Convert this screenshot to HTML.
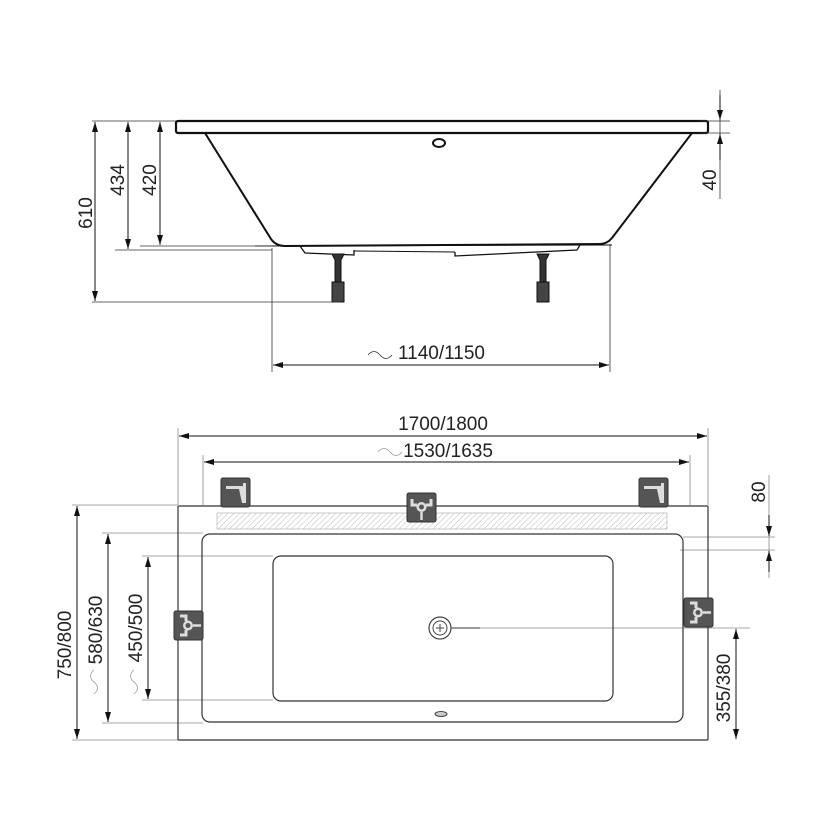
<!DOCTYPE html>
<html><head><meta charset="utf-8"><style>
html,body{margin:0;padding:0;background:#fff;}
svg{display:block;}
text{font-family:"Liberation Sans",sans-serif;font-size:19px;fill:#222;}
</style></head><body>
<svg width="830" height="830" viewBox="0 0 830 830" xmlns="http://www.w3.org/2000/svg">
<defs>
<marker id="a" viewBox="0 0 10 6" refX="10" refY="3" markerWidth="10" markerHeight="6" orient="auto-start-reverse" markerUnits="userSpaceOnUse"><path d="M0,0 L10,3 L0,6 z" fill="#111"/></marker>
<pattern id="h" width="4" height="4" patternUnits="userSpaceOnUse" patternTransform="rotate(45)"><line x1="0" y1="0" x2="0" y2="4" stroke="#bbb" stroke-width="1"/></pattern>
<g id="tap"><rect x="0" y="0" width="29" height="29" rx="2" fill="#555" stroke="#333"/><path d="M5,8 h17 v-3 h3 v20 h-4 l-3,-14 h-13 z" fill="#ddd"/></g>
<g id="valve"><rect x="0" y="0" width="29" height="29" rx="2" fill="#555" stroke="#333"/><path d="M5,6 v6 h5 M24,6 v6 h-5" stroke="#ddd" stroke-width="3" fill="none"/><circle cx="14.5" cy="14" r="5" fill="#ddd"/><circle cx="14.5" cy="14" r="2.5" fill="#555"/><line x1="14.5" y1="19" x2="14.5" y2="27" stroke="#ddd" stroke-width="2.5"/></g>
</defs>
<g stroke="#111" fill="none">
<rect x="176" y="121" width="532" height="12" rx="2" stroke-width="2.2"/>
<path d="M205,133 L271,239 Q276,246 285,246 L600,244 Q607,244 612,238 L692,133" stroke-width="2"/>
<path d="M255,246 L612,245" stroke-width="1"/>
<path d="M300,246 L305,253 L354,255 L354,250" stroke-width="1.3"/>
<path d="M455,252 L455,256 L577,250 L580,245" stroke-width="1.3"/>
<path d="M354,251 L455,252" stroke-width="1"/>
<ellipse cx="439" cy="143" rx="6" ry="4" stroke-width="2"/>
</g>
<g fill="#333" stroke="#111">
<path d="M332,254 h12 l-3,6 v22 h-6 v-22 z" stroke-width="1"/>
<rect x="332" y="282" width="12" height="20" fill="#444"/>
<path d="M537,254 h12 l-3,6 v22 h-6 v-22 z" stroke-width="1"/>
<rect x="537" y="282" width="12" height="20" fill="#444"/>
</g>
<g stroke="#333" stroke-width="0.8" fill="none">
<line x1="92" y1="121" x2="176" y2="121"/>
<line x1="92" y1="302" x2="340" y2="302"/>
<line x1="115" y1="250" x2="272" y2="250"/>
<line x1="140" y1="246" x2="272" y2="246"/>
<line x1="272" y1="248" x2="272" y2="372"/>
<line x1="610" y1="244" x2="610" y2="372"/>
<line x1="700" y1="121" x2="730" y2="121"/>
<line x1="700" y1="133" x2="730" y2="133"/>
<line x1="720" y1="90" x2="720" y2="199"/>
</g>
<g stroke="#111" stroke-width="1" marker-start="url(#a)" marker-end="url(#a)">
<line x1="95" y1="122" x2="95" y2="301"/>
<line x1="128" y1="122" x2="128" y2="249"/>
<line x1="160" y1="122" x2="160" y2="245"/>
<line x1="273" y1="365" x2="609" y2="365"/>
</g>
<g stroke="#111" stroke-width="1">
<line x1="720" y1="95" x2="720" y2="120" marker-end="url(#a)"/>
<line x1="720" y1="160" x2="720" y2="134" marker-end="url(#a)"/>
</g>
<text x="92" y="213" transform="rotate(-90 92 213)" text-anchor="middle">610</text>
<text x="124" y="180" transform="rotate(-90 124 180)" text-anchor="middle">434</text>
<text x="156" y="180" transform="rotate(-90 156 180)" text-anchor="middle">420</text>
<text x="716" y="180" transform="rotate(-90 716 180)" text-anchor="middle">40</text>
<text x="398" y="359">1140/1150</text>
<path d="M368,355 q6,-7 12,0 t12,0" stroke="#333" fill="none" stroke-width="0.8"/>
<g stroke="#888" stroke-width="0.8" fill="none">
<line x1="178" y1="428" x2="178" y2="505"/>
<line x1="708" y1="428" x2="708" y2="505"/>
<line x1="203" y1="455" x2="203" y2="505"/>
<line x1="690" y1="455" x2="690" y2="505"/>
<line x1="72" y1="505" x2="178" y2="505"/>
<line x1="72" y1="740" x2="178" y2="740"/>
<line x1="102" y1="533" x2="203" y2="533"/>
<line x1="102" y1="723" x2="203" y2="723"/>
<line x1="142" y1="556" x2="273" y2="556"/>
<line x1="142" y1="700" x2="273" y2="700"/>
<line x1="683" y1="537" x2="775" y2="537"/>
<line x1="680" y1="550" x2="775" y2="550"/>
<line x1="769" y1="475" x2="769" y2="578"/>
<line x1="470" y1="628" x2="750" y2="628"/>
</g>
<g stroke="#333" stroke-width="1.2" fill="none">
<rect x="178" y="506" width="530" height="234" rx="1"/>
<rect x="217" y="513" width="450" height="16" fill="url(#h)" stroke="#bbb" stroke-width="0.8"/>
<rect x="202" y="534" width="481" height="188" rx="8"/>
<rect x="273" y="556" width="340" height="145" rx="8"/>
</g>
<line x1="450" y1="628" x2="480" y2="628" stroke="#333" stroke-width="1"/>
<circle cx="440" cy="628" r="11" fill="#fff" stroke="#444" stroke-width="1.2"/>
<circle cx="440" cy="628" r="7" fill="none" stroke="#444" stroke-width="1"/>
<path d="M440,624 v8 M436,628 h8" stroke="#444" stroke-width="1"/>
<ellipse cx="441" cy="714" rx="6" ry="2.5" fill="#ccc" stroke="#444" stroke-width="1"/>
<use href="#tap" x="221" y="478"/>
<use href="#tap" x="639" y="478"/>
<use href="#valve" x="407" y="493"/>
<use href="#valve" x="174" y="611" transform="rotate(-90 188.5 625.5)"/>
<use href="#valve" x="684" y="598" transform="rotate(-90 698.5 612.5)"/>
<g stroke="#111" stroke-width="1" marker-start="url(#a)" marker-end="url(#a)">
<line x1="179" y1="436" x2="707" y2="436"/>
<line x1="204" y1="462" x2="689" y2="462"/>
<line x1="77" y1="506" x2="77" y2="739"/>
<line x1="108" y1="534" x2="108" y2="722"/>
<line x1="148" y1="557" x2="148" y2="699"/>
<line x1="736" y1="629" x2="736" y2="739"/>
</g>
<g stroke="#111" stroke-width="1">
<line x1="769" y1="515" x2="769" y2="536" marker-end="url(#a)"/>
<line x1="769" y1="572" x2="769" y2="551" marker-end="url(#a)"/>
</g>
<text x="443" y="430" text-anchor="middle">1700/1800</text>
<text x="448" y="457" text-anchor="middle">1530/1635</text>
<path d="M378,452 q6,-7 12,0 t12,0" stroke="#999" fill="none" stroke-width="0.8"/>
<text x="71" y="645" transform="rotate(-90 71 645)" text-anchor="middle">750/800</text>
<text x="102" y="630" transform="rotate(-90 102 630)" text-anchor="middle">580/630</text>
<text x="142" y="628" transform="rotate(-90 142 628)" text-anchor="middle">450/500</text>
<text x="730" y="688" transform="rotate(-90 730 688)" text-anchor="middle">355/380</text>
<text x="765" y="492" transform="rotate(-90 765 492)" text-anchor="middle">80</text>
<path d="M94,670 q-7,6 0,12 t0,12" stroke="#999" fill="none" stroke-width="0.8"/>
<path d="M134,670 q-7,6 0,12 t0,12" stroke="#999" fill="none" stroke-width="0.8"/>
</svg>
</body></html>
